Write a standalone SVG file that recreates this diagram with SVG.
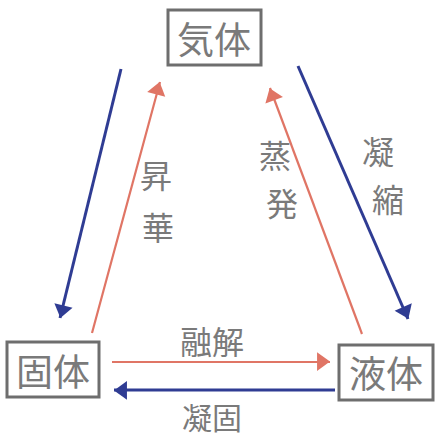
<svg xmlns="http://www.w3.org/2000/svg" width="438" height="439" viewBox="0 0 438 439">
<style>
.box{fill:none;stroke:#6e6e6e;stroke-width:3}
.t{font-family:"Noto Sans CJK JP","Noto Sans CJK SC",sans-serif;fill:#7a7a7a;text-anchor:middle;dominant-baseline:central}
.n{font-size:37px}
.l{font-size:32px}
.red{stroke:#e07565;stroke-width:2.2;fill:none}
.blue{stroke:#2f3c93;stroke-width:3;fill:none}
</style>
<defs>
<marker id="ar" viewBox="0 0 10 10" refX="9" refY="5" markerWidth="8" markerHeight="8" markerUnits="userSpaceOnUse" orient="auto" overflow="visible">
<path d="M-8,-8 L10,5 L-8,18 Z" fill="#e07565" transform="scale(0.9)"/>
</marker>
<marker id="ab" viewBox="0 0 10 10" refX="9" refY="5" markerWidth="8" markerHeight="8" markerUnits="userSpaceOnUse" orient="auto" overflow="visible">
<path d="M-8,-8 L10,5 L-8,18 Z" fill="#2f3c93" transform="scale(0.9)"/>
</marker>
</defs>
<rect width="438" height="439" fill="#ffffff"/>
<g id="connectors">
<line class="blue" x1="121" y1="69" x2="60" y2="318" marker-end="url(#ab)"/>
<line class="red" x1="92" y1="333" x2="160" y2="82" marker-end="url(#ar)"/>
<line class="red" x1="362" y1="334" x2="270" y2="88" marker-end="url(#ar)"/>
<line class="blue" x1="298" y1="66" x2="408" y2="319" marker-end="url(#ab)"/>
<line class="red" x1="112" y1="362" x2="330" y2="362" marker-end="url(#ar)"/>
<line class="blue" x1="335" y1="390" x2="114" y2="390" marker-end="url(#ab)"/>
</g>
<g id="gas">
<rect class="box" x="168" y="10" width="93" height="55"/>
<text class="t n" x="214" y="38">気体</text>
</g>
<g id="solid">
<rect class="box" x="7" y="342" width="92" height="55"/>
<text class="t n" x="53" y="370">固体</text>
</g>
<g id="liquid">
<rect class="box" x="339" y="345" width="94" height="55"/>
<text class="t n" x="386" y="372">液体</text>
</g>
<g id="labels">
<text class="t l" x="156" y="174">昇</text>
<text class="t l" x="158" y="226">華</text>
<text class="t l" x="275" y="154">蒸</text>
<text class="t l" x="282" y="202">発</text>
<text class="t l" x="378" y="150">凝</text>
<text class="t l" x="388" y="198">縮</text>
<text class="t l" x="212" y="340">融解</text>
<text class="t l" x="212" y="416" style="font-size:30px">凝固</text>
</g>
</svg>
